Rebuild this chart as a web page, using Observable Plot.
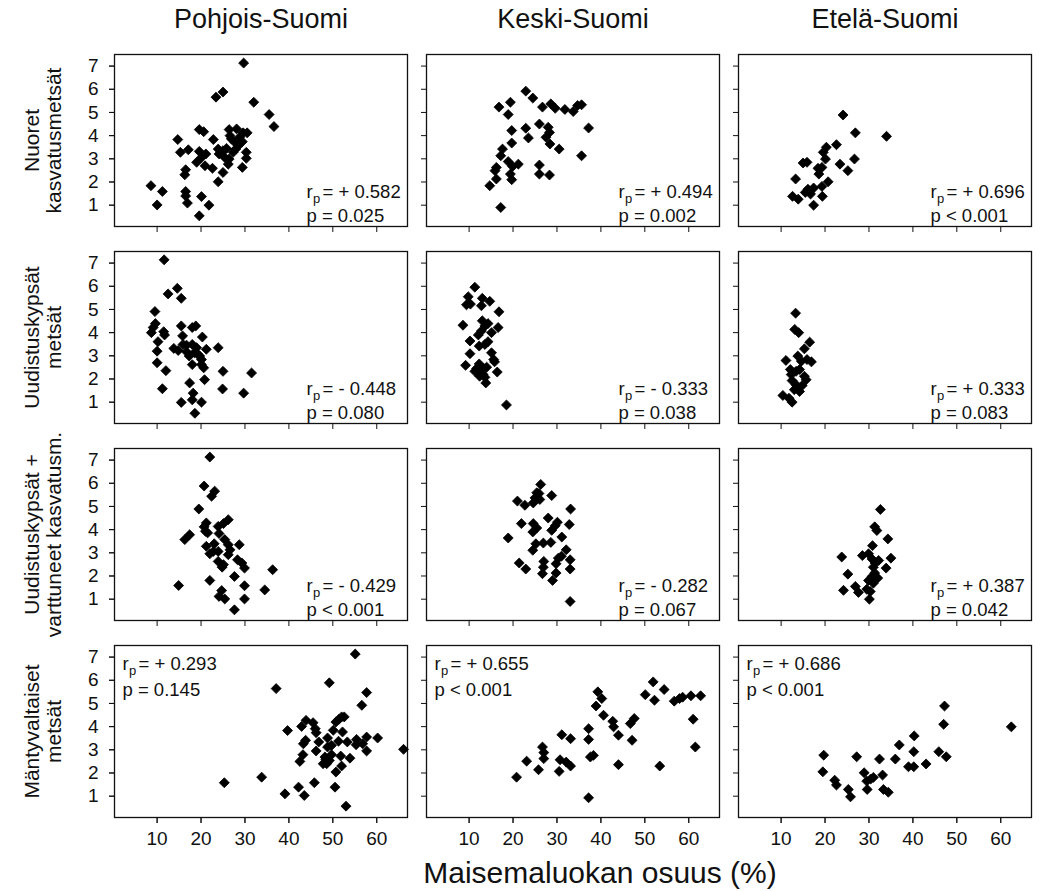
<!DOCTYPE html>
<html>
<head>
<meta charset="utf-8">
<script src="https://cdn.jsdelivr.net/npm/d3@7"></script>
<script src="https://cdn.jsdelivr.net/npm/@observablehq/plot@0.6"></script>
<style>
  body { margin: 0; background: #fff; }
  #chart svg { display: block; }
</style>
</head>
<body>
<div id="chart"></div>
<script>
// Facet categories and axis ticks
const regions = ["Pohjois-Suomi", "Keski-Suomi", "Etelä-Suomi"];
const forestClasses = [
  "Nuoret\nkasvatusmetsät",
  "Uudistuskypsät\nmetsät",
  "Uudistuskypsät +\nvarttuneet kasvatusm.",
  "Mäntyvaltaiset\nmetsät"
];
const xTicks = [10, 20, 30, 40, 50, 60];
const yTicks = [1, 2, 3, 4, 5, 6, 7];
const xLabel = "Maisemaluokan osuus (%)";

// Observations per panel: [landscape class share (%), response]
const youngNorth = [[29.7,7.13],[23.4,5.66],[25.0,5.88],[32.0,5.44],[35.5,4.91],[36.6,4.39],[14.7,3.83],[19.6,4.26],[20.6,4.17],[22.8,3.83],[15.3,3.28],[17.1,3.39],[19.6,3.32],[21.1,3.21],[19.0,2.85],[20.1,3.06],[20.9,2.70],[22.6,2.59],[16.5,2.53],[16.3,2.31],[8.6,1.84],[11.2,1.59],[10.0,1.01],[16.5,1.59],[16.5,1.40],[16.9,1.09],[20.1,1.37],[21.8,1.00],[19.6,0.54],[23.9,2.01],[25.0,2.41],[26.2,2.77],[26.4,2.99],[23.9,3.42],[24.1,3.21],[25.0,3.35],[25.8,3.45],[26.4,4.26],[26.6,4.00],[26.9,3.86],[27.7,3.71],[28.1,4.29],[27.9,3.42],[27.3,3.28],[28.5,3.57],[28.8,3.93],[29.4,3.74],[29.6,4.12],[30.5,4.12],[30.3,3.28],[30.3,3.02],[29.4,2.63],[25.4,3.06]];
const youngCentral = [[22.9,5.92],[24.5,5.62],[19.4,5.44],[16.8,5.23],[18.9,4.91],[26.7,5.23],[28.6,5.37],[29.6,5.18],[31.8,5.13],[33.7,5.04],[34.7,5.30],[35.6,5.33],[37.2,4.33],[35.6,3.13],[30.5,3.42],[28.4,3.64],[27.5,3.93],[28.3,4.14],[28.0,4.36],[26.0,4.50],[22.9,4.32],[23.5,3.90],[19.7,4.22],[19.7,3.68],[17.6,3.42],[17.2,3.13],[18.9,2.88],[21.2,2.77],[19.9,2.67],[16.2,2.63],[15.9,2.49],[19.4,2.34],[19.7,2.10],[16.2,2.13],[14.7,1.84],[17.2,0.90],[26.0,2.73],[26.0,2.34],[28.3,2.30]];
const youngSouth = [[24.1,4.89],[26.9,4.12],[34.0,3.97],[22.6,3.61],[20.3,3.50],[19.6,3.28],[20.1,2.99],[26.7,2.99],[23.4,2.77],[25.2,2.49],[19.3,2.63],[18.4,2.59],[18.6,2.34],[15.0,2.82],[15.9,2.85],[13.3,2.13],[20.7,2.01],[19.3,1.81],[17.4,1.74],[16.1,1.69],[15.5,1.55],[16.7,1.48],[12.6,1.38],[13.9,1.26],[19.4,1.38],[17.4,1.00],[16.3,1.62]];

const matureNorth = [[11.6,7.14],[12.5,5.67],[14.6,5.91],[15.5,5.48],[9.5,4.91],[9.6,4.39],[8.7,4.00],[9.1,4.22],[11.5,4.04],[11.7,3.90],[10.2,3.61],[10.0,3.20],[10.0,2.70],[12.0,2.36],[11.2,1.58],[15.5,4.29],[15.8,3.86],[15.9,3.49],[13.8,3.32],[14.8,3.23],[16.7,3.17],[18.0,4.22],[18.8,4.29],[20.3,3.81],[18.0,3.49],[19.0,3.35],[19.3,3.06],[21.2,3.28],[23.9,3.35],[20.1,2.84],[18.0,2.62],[20.1,2.62],[20.6,2.48],[20.8,1.97],[25.0,2.33],[31.5,2.26],[24.9,1.57],[29.7,1.39],[17.4,1.83],[18.2,1.39],[18.0,1.10],[15.5,0.99],[20.1,1.00],[18.6,0.52],[17.3,2.99],[16.7,3.46],[18.5,3.13],[19.7,2.99]];
const matureCentral = [[11.3,5.96],[9.8,5.55],[9.4,5.20],[10.3,5.23],[13.0,5.48],[12.8,5.16],[14.7,5.35],[16.8,4.90],[8.6,4.32],[13.0,4.51],[13.6,4.29],[14.3,4.39],[16.6,4.22],[12.8,4.07],[15.1,4.00],[12.1,3.90],[10.2,3.64],[14.3,3.61],[13.6,3.49],[12.3,3.42],[10.2,3.09],[15.1,3.13],[15.6,2.84],[15.8,2.74],[9.2,2.59],[12.3,2.65],[11.3,2.33],[13.2,2.45],[14.0,2.51],[12.8,2.26],[12.4,2.12],[13.6,2.07],[16.4,2.30],[13.8,1.83],[18.5,0.88],[13.2,2.19],[11.7,2.45]];
const matureSouth = [[13.3,4.84],[13.1,4.14],[14.0,4.00],[16.5,3.59],[15.3,3.30],[13.8,2.99],[11.1,2.80],[15.9,2.84],[16.9,2.74],[12.1,2.41],[14.2,2.41],[12.3,2.19],[15.3,2.12],[15.7,1.97],[12.5,1.93],[13.4,1.75],[14.8,1.72],[13.0,1.54],[14.2,1.46],[10.4,1.29],[11.8,1.17],[12.5,1.00],[13.4,2.33],[14.6,2.77]];

const mixedNorth = [[22.0,7.13],[20.7,5.88],[23.1,5.66],[22.4,5.44],[19.5,4.89],[21.2,4.29],[20.7,4.12],[21.5,3.86],[26.2,4.43],[25.1,4.26],[23.9,4.14],[24.1,3.83],[17.4,3.78],[16.3,3.57],[21.2,3.28],[23.0,3.39],[22.0,2.96],[26.2,3.35],[28.7,3.35],[23.9,3.06],[26.2,2.92],[23.9,2.63],[25.1,2.49],[28.3,2.70],[29.3,2.56],[29.9,2.34],[24.8,2.38],[27.6,1.98],[29.9,1.58],[36.3,2.27],[34.5,1.40],[22.0,1.81],[14.9,1.59],[24.7,1.37],[24.1,1.12],[25.4,1.01],[29.9,1.01],[27.6,0.54],[21.0,3.93],[22.8,3.06],[25.4,3.57],[26.6,3.13]];
const mixedCentral = [[26.3,5.95],[25.4,5.59],[25.0,5.37],[26.1,5.30],[24.6,5.15],[28.8,5.47],[21.0,5.23],[22.7,5.05],[33.1,4.89],[28.0,4.50],[21.9,4.26],[24.6,4.26],[25.4,4.07],[30.1,4.32],[32.8,4.22],[29.6,4.17],[28.8,3.97],[24.5,3.90],[18.9,3.64],[31.1,3.68],[25.2,3.39],[26.9,3.42],[28.6,3.45],[24.5,3.11],[32.1,3.13],[31.0,2.85],[33.0,2.70],[21.4,2.56],[22.9,2.30],[27.0,2.63],[26.9,2.38],[29.8,2.53],[33.0,2.30],[26.7,2.10],[29.8,2.13],[29.0,1.81],[33.0,0.90],[30.3,2.77],[25.9,5.56]];
const mixedSouth = [[32.6,4.87],[31.3,4.12],[31.8,3.96],[34.3,3.60],[30.8,3.31],[23.8,2.82],[28.5,2.88],[29.9,2.96],[30.7,2.73],[32.2,2.67],[35.0,2.77],[33.9,2.34],[31.0,2.38],[31.3,2.13],[25.2,2.08],[32.0,1.91],[29.9,1.81],[31.0,1.69],[26.9,1.55],[27.6,1.29],[24.2,1.38],[29.5,1.43],[30.3,1.33],[30.1,1.00],[31.4,2.56],[30.7,1.98]];

const pineNorth = [[55.1,7.13],[37.1,5.64],[49.2,5.89],[57.7,5.47],[56.6,4.92],[25.3,1.58],[33.8,1.82],[39.1,1.10],[39.7,3.83],[42.9,4.01],[43.9,4.27],[45.5,4.17],[46.0,3.91],[46.2,3.74],[43.8,3.41],[43.3,3.26],[43.2,2.79],[42.5,2.50],[46.8,3.34],[46.2,2.95],[42.2,1.39],[43.5,1.03],[45.8,1.58],[48.8,3.51],[48.8,3.12],[49.7,3.19],[50.1,3.84],[50.7,4.20],[51.4,4.32],[52.0,4.42],[52.6,4.42],[52.2,3.77],[51.3,3.37],[48.2,2.69],[48.6,2.40],[48.4,2.59],[49.7,2.79],[51.8,2.73],[52.0,2.30],[50.7,2.04],[50.5,1.39],[53.0,0.57],[53.9,2.64],[53.3,3.34],[55.4,3.45],[55.3,3.22],[56.8,3.26],[57.7,3.55],[57.7,2.95],[60.2,3.51],[66.1,3.02],[47.8,2.40],[49.2,2.54]];
const pineCentral = [[51.9,5.93],[54.4,5.60],[50.1,5.38],[52.2,5.14],[39.3,5.50],[40.2,5.21],[38.9,4.89],[40.6,4.49],[42.7,4.23],[42.9,3.99],[44.0,3.63],[37.2,3.91],[37.2,3.45],[31.1,3.65],[33.1,3.48],[26.7,3.12],[27.0,2.88],[27.0,2.62],[23.1,2.51],[25.8,2.14],[20.8,1.82],[30.5,2.07],[30.7,2.57],[32.1,2.47],[33.1,2.30],[37.6,2.69],[38.3,2.76],[44.0,2.36],[37.2,0.93],[47.1,3.41],[46.7,4.13],[47.6,4.35],[53.4,2.30],[56.7,5.10],[57.9,5.21],[58.6,5.27],[60.5,5.33],[62.7,5.33],[61.0,4.32],[61.5,3.12]];
const pineSouth = [[47.2,4.89],[47.0,4.10],[62.4,3.99],[40.3,3.60],[36.9,3.21],[40.2,2.92],[45.9,2.92],[47.6,2.70],[36.0,2.60],[32.4,2.60],[27.2,2.70],[19.7,2.77],[19.5,2.05],[39.0,2.27],[40.2,2.27],[43.0,2.39],[28.9,2.01],[33.1,1.91],[31.0,1.81],[29.5,1.65],[30.4,1.74],[22.2,1.69],[22.6,1.48],[25.3,1.29],[29.6,1.29],[33.3,1.29],[34.4,1.17],[25.8,0.97]];

// Pearson correlations and p-values, rows = forest classes, columns = regions
const rValues = [
  [0.582, 0.494, 0.696],
  [-0.448, -0.333, 0.333],
  [-0.429, -0.282, 0.387],
  [0.293, 0.655, 0.686]
];
const pTexts = [
  ["= 0.025", "= 0.002", "< 0.001"],
  ["= 0.080", "= 0.038", "= 0.083"],
  ["< 0.001", "= 0.067", "= 0.042"],
  ["= 0.145", "< 0.001", "< 0.001"]
];

// Long table for the faceted scatter
const panels = [
  [youngNorth, youngCentral, youngSouth],
  [matureNorth, matureCentral, matureSouth],
  [mixedNorth, mixedCentral, mixedSouth],
  [pineNorth, pineCentral, pineSouth]
];
const points = panels.flatMap((row, i) =>
  row.flatMap((pts, j) => pts.map(([x, y]) => ({cls: forestClasses[i], region: regions[j], x, y})))
);
const stats = rValues.flatMap((row, i) => row.map((r, j) => ({
  cls: forestClasses[i],
  region: regions[j],
  rText: `= ${r < 0 ? "-" : "+"} ${Math.abs(r).toFixed(3)}`,
  pText: `p ${pTexts[i][j]}`,
  upper: i === forestClasses.length - 1
})));
const statsLow = stats.filter(d => !d.upper);
const statsHigh = stats.filter(d => d.upper);

const font = "'Liberation Sans', Arial, Helvetica, sans-serif";

// r_p annotation drawn as "r", subscript "p", then the value
function statMarks(data, anchor, x0, y1, y2) {
  const common = {fx: "region", fy: "cls", frameAnchor: anchor, textAnchor: "start", lineAnchor: "middle", fill: "#111"};
  return [
    Plot.text(data, {...common, text: () => "r", dx: x0, dy: y1, fontSize: 18.5}),
    Plot.text(data, {...common, text: () => "p", dx: x0 + 6.5, dy: y1 + 6, fontSize: 13}),
    Plot.text(data, {...common, text: "rText", dx: x0 + 16, dy: y1, fontSize: 18.5}),
    Plot.text(data, {...common, text: "pText", dx: x0, dy: y2, fontSize: 18.5})
  ];
}

const chart = Plot.plot({
  width: 1041,
  height: 891,
  marginLeft: 113,
  marginRight: 9,
  marginTop: 53,
  marginBottom: 74,
  style: {fontFamily: font, fontSize: "18px", color: "#111", background: "#fff"},
  fx: {domain: regions, paddingInner: 0.06, paddingOuter: 0, axis: null},
  fy: {domain: forestClasses, paddingInner: 0.128, paddingOuter: 0, axis: null},
  x: {domain: [0.3, 67], label: null},
  y: {domain: [0.08, 7.5], label: null},
  marks: [
    Plot.frame({stroke: "#111", strokeWidth: 1.3}),
    // tick marks on every panel
    Plot.axisY({ticks: yTicks, facetAnchor: null, tickSize: 5, tickFormat: () => "", label: null}),
    Plot.axisX({ticks: xTicks, facetAnchor: null, tickSize: 6, tickFormat: () => "", label: null}),
    // tick labels on the outer panels only
    Plot.axisY({ticks: yTicks, facetAnchor: "left", tickSize: 5, tickPadding: 11, fontSize: 19, label: null}),
    Plot.axisX({ticks: xTicks, facetAnchor: "bottom", tickSize: 6, tickPadding: 8, fontSize: 19, label: null}),
    Plot.dot(points, {x: "x", y: "y", fx: "region", fy: "cls", symbol: "diamond2", r: 4.5, fill: "#000", stroke: "#000", strokeWidth: 0.8}),
    ...statMarks(statsLow, "bottom-right", -101, -34, -10),
    ...statMarks(statsHigh, "top-left", 8, 19, 45),
    // column titles
    Plot.text(regions, {fx: d => d, fy: () => forestClasses[0], text: d => d, frameAnchor: "top", dy: -35, lineAnchor: "middle", fontSize: 27, fill: "#111"}),
    // row titles
    Plot.text(forestClasses, {fy: d => d, fx: () => regions[0], text: d => d, frameAnchor: "left", dx: -72, rotate: -90, textAnchor: "middle", lineAnchor: "middle", lineHeight: 1.05, fontSize: 21, fill: "#111"}),
    // shared x-axis title
    Plot.text([xLabel], {fx: () => regions[1], fy: () => forestClasses[3], text: d => d, frameAnchor: "bottom", dx: 27, dy: 56, lineAnchor: "middle", fontSize: 30, fill: "#111"})
  ]
});

document.getElementById("chart").append(chart);
</script>
</body>
</html>
